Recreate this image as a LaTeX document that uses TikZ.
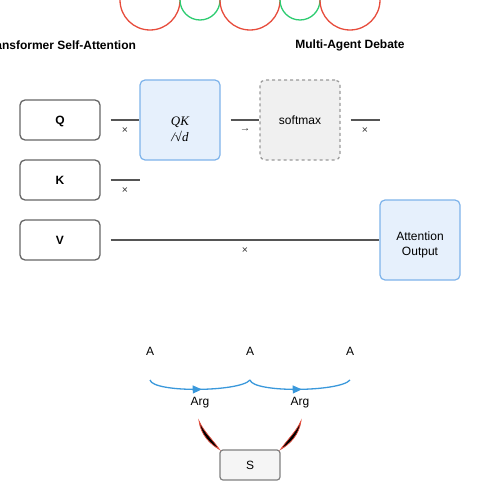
\documentclass[tikz,border=0pt]{standalone}
\usepackage{fontspec}
\setmainfont{Liberation Sans}
\newfontfamily\serifit{Liberation Serif}
\usetikzlibrary{arrows.meta,decorations.markings}
\definecolor{cred}{HTML}{E74C3C}
\definecolor{cgreen}{HTML}{2ECC71}
\definecolor{boxgray}{HTML}{666666}
\definecolor{linegray}{HTML}{555555}
\definecolor{lblue}{HTML}{E6F0FC}
\definecolor{sblue}{HTML}{7EB3EA}
\definecolor{arrblue}{HTML}{3A98DB}
\tikzset{
  capfix/.style={text height=8.6pt, text depth=0pt},
  inbox/.style={draw=boxgray, line width=1.3pt, fill=white, rounded corners=5pt,
    minimum width=80pt, minimum height=40pt, capfix, font=\fontsize{12}{14}\selectfont\bfseries},
  bluebox/.style={draw=sblue, line width=1.2pt, fill=lblue, rounded corners=5pt,
    minimum width=80pt, minimum height=80pt},
  smbox/.style={draw=black!40, dashed, line width=1.2pt, fill=black!6, rounded corners=5pt,
    minimum width=80pt, minimum height=80pt, capfix, font=\fontsize{12}{14}\selectfont},
  sbox/.style={draw=black!50, line width=1.2pt, fill=black!4, rounded corners=3pt,
    minimum width=60pt, minimum height=30pt, capfix, font=\fontsize{12}{14}\selectfont},
  conn/.style={draw=linegray, line width=1.5pt},
  times/.style={font=\fontsize{10.5}{12}\selectfont, text=black!80, inner sep=0pt},
  lbl/.style={font=\fontsize{12}{14}\selectfont, inner sep=0pt, capfix},
  ttl/.style={font=\fontsize{12}{14}\selectfont\bfseries, inner sep=0pt},
  mtext/.style={align=center, inner sep=0pt},
  ring/.style={line width=1.3pt},
  debate/.style={draw=arrblue, line width=1.3pt,
    postaction={decorate, decoration={markings,
      mark=at position 0.52 with {\arrow{Triangle[length=9pt,width=8pt]}}}}},
  horn/.style={fill=black, draw=cred, line width=0.7pt},
}
\begin{document}
\begin{tikzpicture}[x=1pt,y=-1pt]
\useasboundingbox (0,0) rectangle (500,500);
\clip (0,0) rectangle (500,500);

% top circles
\draw[ring, cred] (150,0) circle[radius=30];
\draw[ring, cgreen] (200,0) circle[radius=20];
\draw[ring, cred] (250,0) circle[radius=30];
\draw[ring, cgreen] (300,0) circle[radius=20];
\draw[ring, cred] (350,0) circle[radius=30];

% titles
\node[ttl] (t1) at (60,45) {Transformer Self-Attention};
\node[ttl] (t2) at (350,45) {Multi-Agent Debate};

% nodes
\node[inbox] (q) at (60,120) {Q};
\node[inbox] (k) at (60,180) {K};
\node[inbox] (v) at (60,240) {V};
\node[bluebox] (qk) at (180,120) {};
\node[mtext, font=\fontsize{13}{16}\selectfont\serifit\itshape] (qkt) at (180,129) {QK\\/√d};
\node[smbox] (sm) at (300,120) {softmax};
\node[bluebox] (out) at (420,240) {};
\node[mtext, font=\fontsize{12}{15}\selectfont] (outt) at (420,244.5) {Attention\\Output};

% connectors
\draw[conn] ([xshift=10pt]q.east) -- (qk.west);
\node[times] (x1) at (125,130.5) {×};
\draw[conn] ([xshift=10pt]qk.east) -- (sm.west);
\node[times] (x2) at (245,130.5) {→};
\coordinate (smend) at (380,120);
\draw[conn] ([xshift=10pt]sm.east) -- (smend);
\node[times] (x3) at (365,130.5) {×};
\coordinate (kend) at (140,180);
\draw[conn] ([xshift=10pt]k.east) -- (kend);
\node[times] (x4) at (125,190.5) {×};
\draw[conn] ([xshift=10pt]v.east) -- (out.west);
\node[times] (x5) at (245,250.5) {×};

% debate
\node[lbl] (a1) at (150,351) {A};
\node[lbl] (a2) at (250,351) {A};
\node[lbl] (a3) at (350,351) {A};
\coordinate (c1) at (150,380);
\coordinate (c2) at (250,380);
\coordinate (c3) at (350,380);
\draw[debate] (c1) .. controls (153,393) and (240,392) .. (c2);
\draw[debate] (c2) .. controls (253,393) and (340,392) .. (c3);
\node[lbl] (g1) at (200,401) {Arg};
\node[lbl] (g2) at (300,401) {Arg};

\node[sbox] (s) at (250,465) {S};

% horns
\draw[horn] (199,421) .. controls (201,435) and (210,444) .. (s.north west)
  .. controls (213,440) and (204,432) .. cycle;
\draw[horn] (301,421) .. controls (299,435) and (290,444) .. (s.north east)
  .. controls (287,440) and (296,432) .. cycle;
\end{tikzpicture}
\end{document}
